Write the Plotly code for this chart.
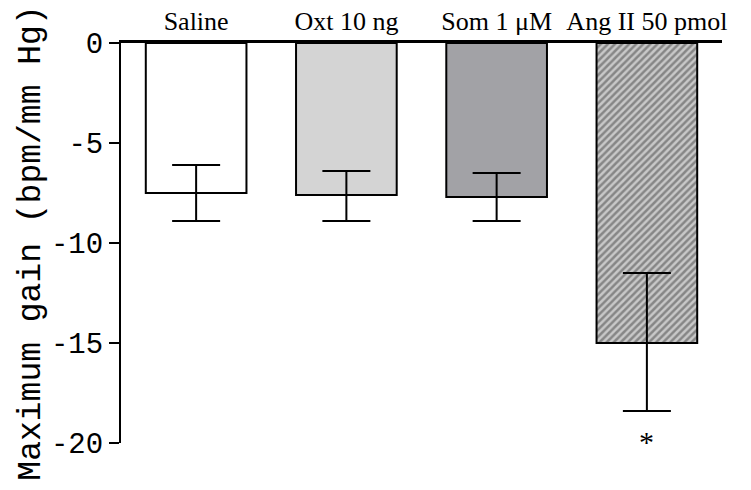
import plotly.graph_objects as go

categories = ["Saline", "Oxt 10 ng", "Som 1 \u03bcM", "Ang II 50 pmol"]
values = [-7.5, -7.6, -7.7, -15.0]
err_up = [1.4, 1.2, 1.2, 3.5]
err_down = [1.4, 1.3, 1.2, 3.4]
significance = ["", "", "", "*"]
bar_colors = ["#ffffff", "#d4d4d4", "#a2a2a6", "#c8c8c8"]
pattern_shapes = ["", "", "", "/"]
y_ticks = [0, -5, -10, -15, -20]
y_tick_labels = ["0", "-5", "-10", "-15", "-20"]

xpos = list(range(len(categories)))

fig = go.Figure()
fig.add_trace(go.Bar(
    x=xpos,
    y=values,
    width=0.67,
    marker=dict(
        color=bar_colors,
        line=dict(color="black", width=2),
        pattern=dict(shape=pattern_shapes, fgcolor="#111111", bgcolor=bar_colors,
                     size=5, solidity=0.5),
    ),
    error_y=dict(type="data", symmetric=False, array=err_up, arrayminus=err_down,
                 color="black", thickness=2, width=24),
    showlegend=False,
))

for i, s in enumerate(significance):
    if s:
        fig.add_annotation(x=xpos[i], y=values[i] - err_down[i], text=s,
                           showarrow=False, yanchor="top", yshift=-12,
                           font=dict(family="Liberation Serif", size=30, color="black"))

fig.update_layout(
    width=751, height=490,
    margin=dict(l=121, r=29, t=43, b=47, autoexpand=False),
    plot_bgcolor="white", paper_bgcolor="white",
    xaxis=dict(
        side="top", range=[-0.5, 3.5], tickvals=xpos, ticktext=categories,
        showline=True, linecolor="black", linewidth=3, ticks="", showgrid=False,
        zeroline=False, automargin=False,
        tickfont=dict(family="Liberation Serif", size=26, color="black"),
    ),
    yaxis=dict(
        range=[-20, 0], tickvals=y_ticks, ticktext=y_tick_labels,
        showline=True, linecolor="black", linewidth=2, ticks="outside",
        ticklen=10, tickwidth=2, tickcolor="black", showgrid=False, zeroline=False,
        automargin=False,
        tickfont=dict(family="Liberation Mono", size=29, color="black"),
        title=dict(text="Maximum gain (bpm/mm Hg)", standoff=0,
                   font=dict(family="Liberation Mono", size=33, color="black")),
    ),
)

fig.write_html("out.html")
